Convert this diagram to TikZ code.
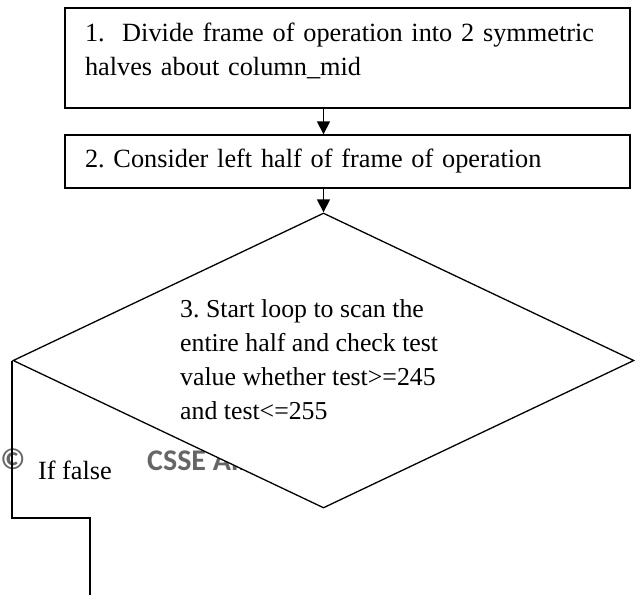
\documentclass[tikz,border=0pt]{standalone}
\usepackage{fontspec}
\setmainfont{Liberation Serif}
\newfontfamily\wmfont{Carlito}
\usetikzlibrary{shapes.geometric,arrows.meta}
\frenchspacing

\begin{document}
\begin{tikzpicture}[x=1pt,y=-1pt,
  font=\fontsize{26.3}{34.5}\selectfont,
  stepbox/.style={draw,line width=1.3pt,minimum width=565pt,inner xsep=20pt,
    text width=525pt,align=left},
  flow/.style={line width=1.3pt,-{Triangle[length=13pt,width=13pt]}},
  wmark/.style={text=black!60,font=\wmfont\bfseries\fontsize{30}{34}\selectfont}]
\useasboundingbox (0,0) rectangle (635,595);

% Watermark behind the chart
\node[wmark] (copy) at (13,459) {\textcopyright};
\node[wmark,anchor=west,inner sep=0pt] (wm) at (147,460) {CSSE All};

% Process boxes
\node[stepbox,minimum height=100pt,text depth=52pt] (box1) at (347.5,58)
  {1.\ \ Divide frame of operation into 2 symmetric\\halves about column\_mid};
\node[stepbox,minimum height=53pt] (box2) at (347.5,161.5) {2. Consider left half of frame of operation};

% Decision
\node[draw,diamond,fill=white,line width=1.3pt,minimum width=621pt,minimum height=295pt,
  inner sep=0pt] (dia) at (323.5,360.5) {};
\node[anchor=base west,align=left,inner sep=0pt,font=\fontsize{25.8}{34}\selectfont] (dtext)
  at (180,419) {3. Start loop to scan the\\entire half and check test\\value whether test>=245\\and test<=255};

% Arrows
\draw[flow] (dia.north |- box1.south) -- (dia.north |- box2.north);
\draw[flow] (dia.north |- box2.south) -- (dia.north);

% False branch
\coordinate (turn) at (90,518);
\coordinate (falseend) at (90,595);
\draw[line width=2pt] (dia.west) |- (turn) -- (falseend);
\node (false) at (75,470) {If false};
\end{tikzpicture}
\end{document}
